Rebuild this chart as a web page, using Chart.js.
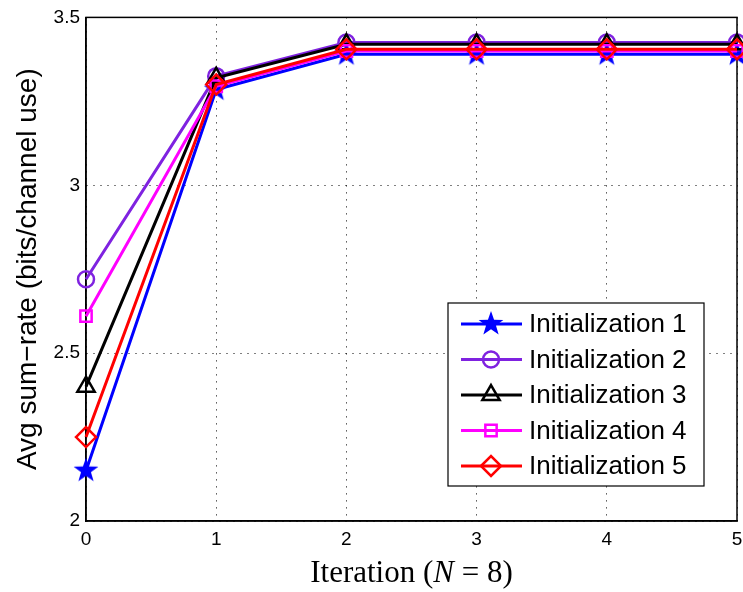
<!DOCTYPE html>
<html>
<head>
<meta charset="utf-8">
<script src="https://cdn.jsdelivr.net/npm/chart.js@4.4.1/dist/chart.umd.min.js"></script>
<style>
  html, body { margin: 0; padding: 0; background: #fff; }
  #wrap { width: 743px; height: 592px; }
</style>
</head>
<body>
<div id="wrap"><canvas id="rateChart" width="743" height="592"></canvas></div>
<script>
const iterations = [0, 1, 2, 3, 4, 5];
const seriesNames = ["Initialization 1", "Initialization 2", "Initialization 3", "Initialization 4", "Initialization 5"];
const init1 = [2.15, 3.285, 3.39, 3.39, 3.39, 3.39];
const init2 = [2.72, 3.325, 3.425, 3.425, 3.425, 3.425];
const init3 = [2.40, 3.32, 3.42, 3.42, 3.42, 3.42];
const init4 = [2.61, 3.295, 3.40, 3.40, 3.40, 3.40];
const init5 = [2.25, 3.30, 3.405, 3.405, 3.405, 3.405];
const yTicks = [2, 2.5, 3, 3.5];

// filled pentagram like matlab's star marker
function makeStar(color, r) {
    const c = document.createElement("canvas");
    const s = Math.ceil(r * 2 + 4);
    c.width = s;
    c.height = s;
    const g = c.getContext("2d");
    g.fillStyle = color;
    g.beginPath();
    for (let i = 0; i < 10; i++) {
        const rad = i % 2 === 0 ? r : r * 0.4;
        const a = -Math.PI / 2 + i * Math.PI / 5;
        const px = s / 2 + rad * Math.cos(a);
        const py = s / 2 + rad * Math.sin(a);
        if (i === 0) g.moveTo(px, py); else g.lineTo(px, py);
    }
    g.closePath();
    g.fill();
    return c;
}

const styles = [
    { color: "#0000ff", point: makeStar("#0000ff", 13), radius: 12 },
    { color: "#7f22e0", point: "circle", radius: 8 },
    { color: "#000000", point: "triangle", radius: 10 },
    { color: "#ff00ff", point: "rect", radius: 8 },
    { color: "#ff0000", point: "rectRot", radius: 10 },
];

const allData = [init1, init2, init3, init4, init5];

const datasets = allData.map((vals, i) => ({
    label: seriesNames[i],
    data: vals.map((v, k) => ({ x: iterations[k], y: v })),
    borderColor: styles[i].color,
    backgroundColor: "rgba(0,0,0,0)",
    borderWidth: 3,
    pointStyle: styles[i].point,
    pointRadius: styles[i].radius,
    pointBorderWidth: 2.5,
    pointBorderColor: styles[i].color,
    pointBackgroundColor: "rgba(0,0,0,0)",
    clip: false,
    order: 5 - i,
}));

const sansFont = "'Liberation Sans', Arial, sans-serif";
const serifFont = "'Liberation Serif', 'Times New Roman', serif";

// legend inside the plot + axis titles
const extras = {
    id: "extras",
    afterDraw(chart) {
        const ctx = chart.ctx;
        const area = chart.chartArea;
        const right = area.right - 33;
        const bottom = area.bottom - 35;
        const w = 256, h = 183;
        const left = right - w, top = bottom - h;
        ctx.save();
        ctx.fillStyle = "#fff";
        ctx.fillRect(left, top, w, h);
        ctx.strokeStyle = "#000";
        ctx.lineWidth = 1.2;
        ctx.strokeRect(left, top, w, h);
        ctx.textBaseline = "middle";
        for (let i = 0; i < seriesNames.length; i++) {
            const y = top + 21 + i * 35.5;
            ctx.strokeStyle = styles[i].color;
            ctx.lineWidth = 3;
            ctx.beginPath();
            ctx.moveTo(left + 13, y);
            ctx.lineTo(left + 74, y);
            ctx.stroke();
            ctx.lineWidth = 2.5;
            ctx.fillStyle = "rgba(0,0,0,0)";
            Chart.helpers.drawPoint(ctx, {
                pointStyle: styles[i].point,
                radius: styles[i].radius,
                rotation: 0,
                borderWidth: 2.5,
            }, left + 43, y);
            ctx.fillStyle = "#000";
            ctx.font = "26px " + sansFont;
            ctx.fillText(seriesNames[i], left + 81, y + 1);
        }

        // y title
        ctx.save();
        ctx.translate(28, (area.top + area.bottom) / 2);
        ctx.rotate(-Math.PI / 2);
        ctx.font = "28px " + sansFont;
        ctx.textAlign = "center";
        ctx.textBaseline = "middle";
        ctx.fillStyle = "#000";
        ctx.fillText("Avg sum\u2212rate (bits/channel use)", 0, 0);
        ctx.restore();

        // x title with italic N
        const parts = [
            ["Iteration (", "31px " + serifFont],
            ["N", "italic 31px " + serifFont],
            [" = 8)", "31px " + serifFont],
        ];
        let total = 0;
        parts.forEach(p => { ctx.font = p[1]; total += ctx.measureText(p[0]).width; });
        let x = (area.left + area.right) / 2 - total / 2;
        ctx.fillStyle = "#000";
        ctx.textAlign = "left";
        ctx.textBaseline = "alphabetic";
        parts.forEach(p => {
            ctx.font = p[1];
            ctx.fillText(p[0], x, 582);
            x += ctx.measureText(p[0]).width;
        });
        ctx.restore();
    },
};

const ctx = document.getElementById("rateChart").getContext("2d");
new Chart(ctx, {
    type: "line",
    data: { datasets },
    options: {
        responsive: false,
        animation: false,
        layout: { autoPadding: false, padding: { top: 16, right: 6, left: 0, bottom: 0 } },
        plugins: {
            legend: { display: false },
            tooltip: { enabled: false },
        },
        scales: {
            x: {
                type: "linear",
                min: 0,
                max: 5,
                ticks: {
                    stepSize: 1,
                    color: "#000",
                    padding: 7,
                    font: { family: sansFont, size: 19 },
                },
                grid: {
                    color: "#000",
                    lineWidth: 1,
                    drawTicks: false,
                },
                border: { display: true, color: "#000", width: 1.5, dash: [1, 6] },
                afterFit(scale) {
                    scale.height = 71;
                    scale.paddingRight = 0;
                },
            },
            y: {
                type: "linear",
                min: yTicks[0],
                max: yTicks[yTicks.length - 1],
                afterBuildTicks(scale) { scale.ticks = yTicks.map(v => ({ value: v })); },
                ticks: {
                    color: "#000",
                    padding: 6,
                    font: { family: sansFont, size: 19 },
                    callback: v => String(v),
                },
                grid: {
                    color: "#000",
                    lineWidth: 1,
                    drawTicks: false,
                },
                border: { display: true, color: "#000", width: 1.5, dash: [1, 6] },
                afterFit(scale) { scale.width = 86; },
            },
        },
    },
    plugins: [extras, {
        id: "frame",
        beforeDatasetsDraw(chart) {
            const a = chart.chartArea;
            const c = chart.ctx;
            c.save();
            c.strokeStyle = "#000";
            c.lineWidth = 1.5;
            c.setLineDash([]);
            c.strokeRect(a.left, a.top, a.right - a.left, a.bottom - a.top);
            c.restore();
        },
    }],
});
</script>
</body>
</html>
